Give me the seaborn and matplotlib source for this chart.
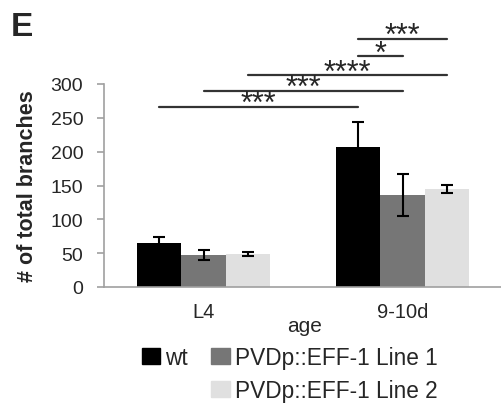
import pandas as pd
import seaborn as sns
import matplotlib.pyplot as plt
from matplotlib.patches import Patch

# values
ages = ["L4", "9-10d"]
strains = ["wt", "PVDp::EFF-1 Line 1", "PVDp::EFF-1 Line 2"]
colors = ["#000000", "#767676", "#e0e0e0"]

wt_mean = [65, 207]
line1_mean = [47, 136]
line2_mean = [49, 145]
wt_err = [9, 37]
line1_err = [7, 31]
line2_err = [3, 6]

# significance brackets: (strain index, age index) -> (strain index, age index)
sig_from = [(0, 0), (1, 0), (2, 0), (0, 1), (0, 1)]
sig_to = [(0, 1), (1, 1), (2, 1), (1, 1), (2, 1)]
sig_height = [266, 290, 313, 341, 367]
sig_label = ["***", "***", "****", "*", "***"]

df = pd.DataFrame({
    "age": ages * 3,
    "strain": [s for s in strains for _ in ages],
    "branches": wt_mean + line1_mean + line2_mean,
})
errs = [wt_err, line1_err, line2_err]

sns.set_style("white")
plt.rcParams["font.family"] = ["Liberation Sans", "DejaVu Sans"]

fig = plt.figure(figsize=(5.02, 4.06), dpi=100)
ax = fig.add_axes([104 / 502, 1 - 288 / 406, 398 / 502, 203 / 406])

sns.barplot(data=df, x="age", y="branches", hue="strain", palette=colors,
            width=0.67, errorbar=None, linewidth=0, legend=False, ax=ax)

bar_sets = list(ax.containers)
centers = []
for i, cont in enumerate(bar_sets):
    xs = [b.get_x() + b.get_width() / 2 for b in cont]
    ys = [b.get_height() for b in cont]
    centers.append(xs)
    ax.errorbar(xs, ys, yerr=errs[i], fmt="none", ecolor="black",
                elinewidth=1.5, capsize=4, capthick=1.5)

for (sa, aa), (sb, ab), h, lab in zip(sig_from, sig_to, sig_height, sig_label):
    x1, x2 = centers[sa][aa], centers[sb][ab]
    ax.plot([x1, x2], [h, h], color="#333333", lw=1.6, clip_on=False)
    ax.annotate(lab, xy=((x1 + x2) / 2, h), xytext=(0, -3.8),
                textcoords="offset points", ha="center", va="baseline",
                fontsize=22, annotation_clip=False)

ax.set_ylim(0, 300)
ax.set_yticks(range(0, 301, 50))
ax.set_xlim(-0.5, 1.5)
ax.set_xticks([-0.5, 0.5, 1.5], minor=True)
ax.tick_params(axis="x", which="major", length=0, pad=11, labelsize=14.5)
ax.tick_params(axis="x", which="minor", length=5, width=1.2, color="#a0a0a0", direction="out")
ax.tick_params(axis="y", length=5, width=1.2, color="#a0a0a0", direction="out",
               pad=10, labelsize=14)
ax.tick_params(left=True, which="major", axis="y")
for side in ["top", "right"]:
    ax.spines[side].set_visible(False)
for side in ["left", "bottom"]:
    ax.spines[side].set_color("#a0a0a0")
    ax.spines[side].set_linewidth(1.2)

ax.set_xlabel("age", fontsize=15)
ax.xaxis.set_label_coords(0.505, -0.145)
ax.set_ylabel("# of total branches", fontsize=15.5, fontweight="bold")
ax.yaxis.set_label_coords(-0.166, 0.5)

handles = [Patch(color=colors[0], label=strains[0]),
           Patch(color="none", label=""),
           Patch(color=colors[1], label=strains[1]),
           Patch(color=colors[2], label=strains[2])]
fig.legend(handles=handles, ncol=2, loc="upper left",
           bbox_to_anchor=(142 / 502, 1 - 347 / 406), frameon=False,
           fontsize=16.3, handlelength=0.8, handleheight=0.68,
           handletextpad=0.22, columnspacing=1.05, labelspacing=0.45,
           borderpad=0, borderaxespad=0)

fig.text(11 / 502, 1 - 36 / 406, "E", fontsize=24, fontweight="bold")

plt.savefig("out.png", dpi=100)
